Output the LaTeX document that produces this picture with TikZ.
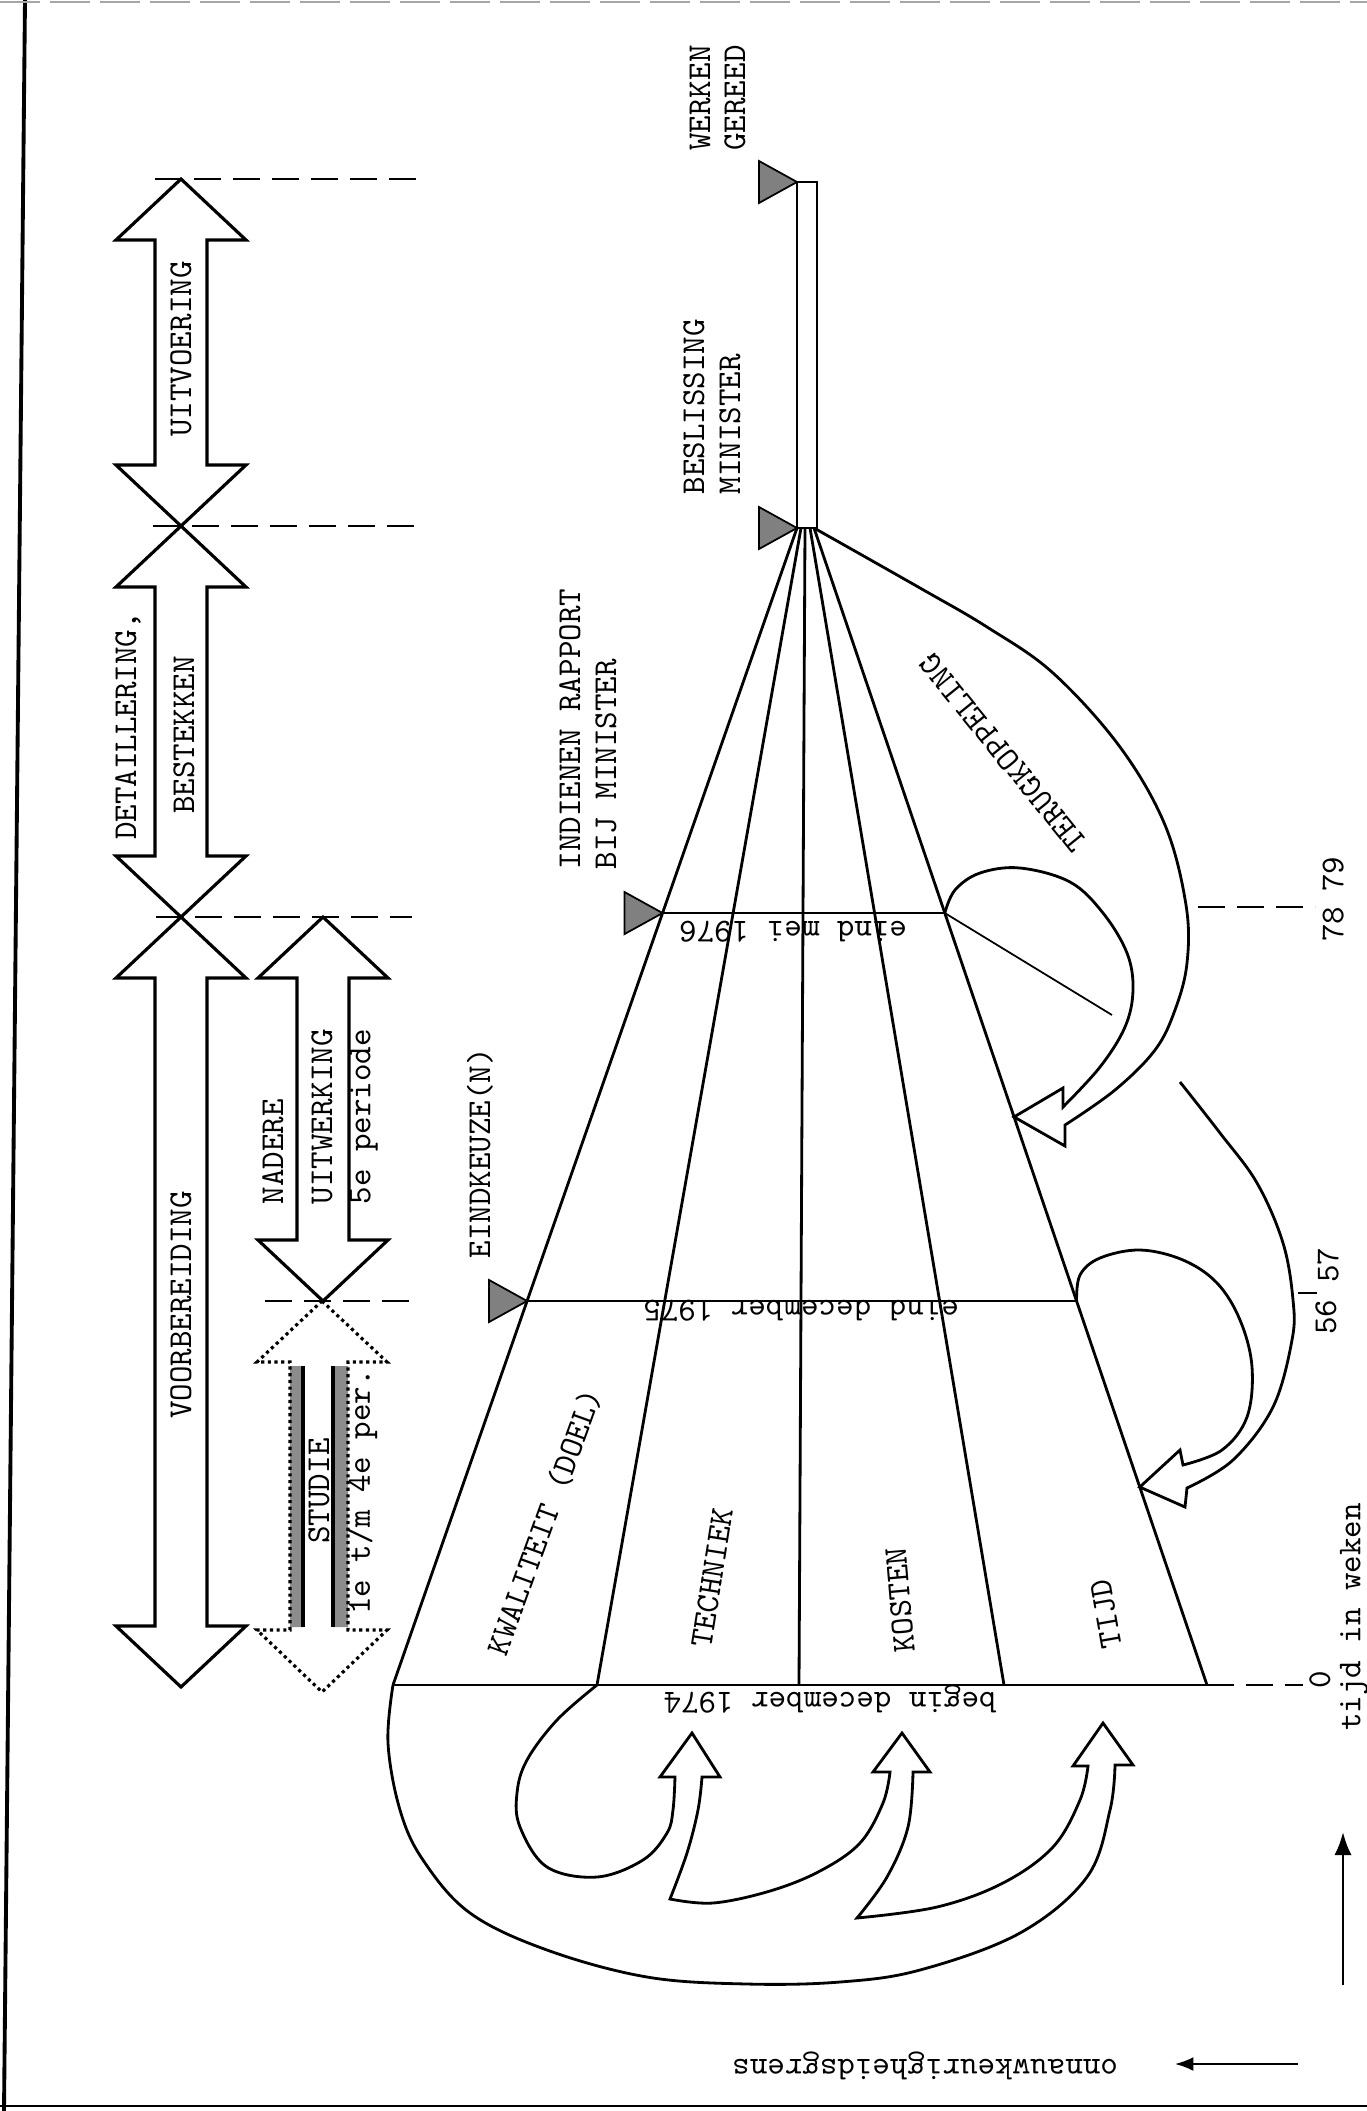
\documentclass[tikz,border=0pt]{standalone}
\usepackage{fontspec}
\usepackage{tikz}
\usetikzlibrary{arrows.meta,calc}

\begin{document}
\begin{tikzpicture}[x=0.1mm, y=-0.1mm, >=Latex,
  lbl/.style={font=\ttfamily\fontsize{9.5}{10}\selectfont, inner sep=0pt},
  blok/.style={draw, line width=0.9pt, line join=miter},
  spaak/.style={line width=0.8pt},
  dun/.style={line width=0.5pt},
  streep/.style={line width=0.6pt, dash pattern=on 2.7mm off 1.2mm},
  vlag/.style={draw, line width=0.5pt, fill=black!50},
  boog/.style={line width=0.8pt, line join=miter}]
  \useasboundingbox (0,0) rectangle (1367,2111);

  \draw[line width=1.1pt] (25,0) -- (4,2111);
  \draw[line width=0.8pt] (0,2106) -- (1367,2106);
  \draw[line width=0.3pt, black!35, dash pattern=on 4mm off 1mm] (0,2) -- (1367,2);

  \foreach \c/\t/\b in {181/179/526, 181/526/917, 181/917/1687, 323/917/1301}
    \draw[blok] (\c,\t) -- (\c+65,\t+61) -- (\c+26,\t+61) -- (\c+26,\b-61) -- (\c+65,\b-61) -- (\c,\b)
      -- (\c-65,\b-61) -- (\c-26,\b-61) -- (\c-26,\t+61) -- (\c-65,\t+61) -- cycle;
  \fill[black!45] (290,1366) rectangle (303,1627) (333,1366) rectangle (348,1627);
  \draw[blok, densely dotted] (322,1301) -- (387,1362) -- (348,1362) -- (348,1630) -- (387,1630) -- (322,1692)
    -- (257,1630) -- (290,1630) -- (290,1362) -- (257,1362) -- cycle;
  \draw[blok] (303,1366) -- (303,1627) (333,1366) -- (333,1627);

  \draw[streep] (155,179) -- (425,179);
  \draw[streep] (153,526) -- (420,526);
  \draw[streep] (156,917) -- (412,917);
  \draw[streep] (265,1301) -- (417,1301);

  \node[lbl, rotate=90] (uitv) at (181,349) {UITVOERING};
  \node[lbl, rotate=90] (detail) at (128,726) {DETAILLERING,};
  \node[lbl, rotate=90] (bestek) at (184,735) {BESTEKKEN};
  \node[lbl, rotate=90] (voorb) at (181,1305) {VOORBEREIDING};
  \node[lbl, rotate=90, anchor=west] (nadere) at (273,1205) {NADERE};
  \node[lbl, rotate=90, anchor=west] (uitw) at (322,1205) {UITWERKING};
  \node[lbl, rotate=90, anchor=west] (per5) at (364,1205) {5e periode};
  \node[lbl, rotate=90] (studie) at (319,1491) {STUDIE};
  \node[lbl, rotate=90] (per14) at (362,1492) {1e t/m 4e per.};

  \foreach \n/\xt/\xb in {0/797/393, 1/801/597, 2/805/799, 3/810/1004, 4/814/1207} {
    \coordinate (t\n) at (\xt,528);
    \coordinate (b\n) at (\xb,1685);
    \draw[spaak] (t\n) -- (b\n);
  }
  \coordinate (l75) at ($(t0)!0.6681!(b0)$);
  \coordinate (r75) at ($(t4)!0.6681!(b4)$);
  \coordinate (l76) at ($(t0)!0.3328!(b0)$);
  \coordinate (r76) at ($(t4)!0.3328!(b4)$);
  \draw[dun] (b0) -- (b4);
  \draw[dun] (l75) -- (r75);
  \draw[dun] (l76) -- (r76);
  \draw[streep] (b4) -- ++(96,0);
  \draw[streep] (1198,907) -- (1315,907);
  \draw[spaak] (797,182) rectangle (817,528);

  \foreach \p in {(797,182), (t0), (l76), (l75)}
    \draw[vlag] \p -- ++(-38,-21) -- ++(0,42) -- cycle;

  \node[lbl, rotate=90] (werken) at (700,98) {WERKEN};
  \node[lbl, rotate=90] (gereed) at (735,98) {GEREED};
  \node[lbl, rotate=90, anchor=west] (besl) at (694,495) {BESLISSING};
  \node[lbl, rotate=90, anchor=west] (minA) at (730,495) {MINISTER};
  \node[lbl, rotate=90, anchor=west] (indien) at (570,870) {INDIENEN RAPPORT};
  \node[lbl, rotate=90, anchor=west] (minB) at (606,870) {BIJ MINISTER};
  \node[lbl, rotate=90, anchor=west] (eindk) at (480,1259) {EINDKEUZE(N)};

  \node[lbl, rotate=70] (kwal) at (545,1522) {KWALITEIT (DOEL)};
  \node[lbl, rotate=81] (tech) at (712,1578) {TECHNIEK};
  \node[lbl, rotate=95] (kost) at (900,1600) {KOSTEN};
  \node[lbl, rotate=100] (tijd) at (1106,1614) {TIJD};
  \node[lbl, rotate=129] (terug) at (1003,753) {TERUGKOPPELING};

  \node[lbl, rotate=180] (d74) at (830,1699) {begin december 1974};
  \node[lbl, rotate=180] (d75) at (801,1311) {eind december 1975};
  \node[lbl, rotate=180] (d76) at (793,932) {eind mei 1976};

  \draw[boog] plot[smooth, tension=0.6] coordinates {(b0) (388,1743) (400,1810) (423,1860) (470,1913) (547,1950)
      (647,1977) (747,1984) (840,1982) (920,1970) (1020,1933) (1087,1877) (1110,1810) (1115,1765)}
    -- (1133,1765) -- (1103,1723) -- (1073,1766)
    -- plot[smooth, tension=0.6] coordinates {(1088,1766) (1080,1800) (1053,1847) (1003,1883) (937,1907) (857,1918)}
    -- plot[smooth, tension=0.6] coordinates {(857,1918) (887,1877) (908,1827) (913,1772)}
    -- (930,1772) -- (902,1733) -- (873,1772)
    -- plot[smooth, tension=0.6] coordinates {(890,1772) (883,1803) (860,1843) (820,1871) (770,1891) (713,1903) (670,1899)}
    -- plot[smooth, tension=0.6] coordinates {(670,1899) (687,1853) (698,1810) (702,1777)}
    -- (720,1777) -- (692,1733) -- (660,1777)
    -- plot[smooth, tension=0.6] coordinates {(675,1777) (673,1810) (667,1833) (643,1860) (597,1877) (547,1867)
      (520,1827) (517,1793) (527,1760) (557,1720) (b1)};

  \draw[boog] plot[smooth, tension=0.6] coordinates {(t4) (920,588) (987,627) (1053,673) (1120,747) (1165,825)
      (1186,905) (1187,963) (1175,1010) (1155,1050) (1115,1090) (1065,1125)}
    -- (1065,1146) -- ($(t4)!0.509!(b4)$) -- (1063,1088)
    -- plot[smooth, tension=0.6] coordinates {(1063,1107) (1100,1067) (1125,1027) (1133,990) (1127,953) (1103,913)
      (1070,882) (1020,868) (980,873) (955,890) (r76)};
  \draw[dun] (r76) -- (1112,1015);

  \draw[boog] plot[smooth, tension=0.6] coordinates {(r75) (1080,1275) (1100,1258) (1140,1250) (1183,1260) (1217,1283)
      (1240,1320) (1252,1367) (1247,1417) (1222,1450) (1183,1465)}
    -- (1180,1450) -- ($(t4)!0.8289!(b4)$) -- (1185,1507)
    -- plot[smooth, tension=0.6] coordinates {(1187,1488) (1233,1460) (1273,1407) (1292,1340) (1293,1300)
      (1283,1243) (1257,1183) (1220,1133) (1180,1082)};

  \node[lbl, rotate=90] (nul) at (1320,1680) {0};
  \node[lbl, rotate=90] (w56) at (1326,1317) {56};
  \node[lbl, rotate=90] (w57) at (1328,1265) {57};
  \draw[dun] (1298,1293) -- (1317,1293);
  \node[lbl, rotate=90] (w78) at (1333,924) {78};
  \node[lbl, rotate=90] (w79) at (1333,874) {79};
  \node[lbl, rotate=90] (weken) at (1354,1617) {tijd in weken};
  \coordinate (tstart) at (1343,1985);
  \coordinate (tend) at (1343,1832);
  \draw[->, line width=0.8pt] (tstart) -- (tend);

  \node[lbl, rotate=180] (grens) at (925,2066) {onnauwkeurigheidsgrens};
  \coordinate (gstart) at (1298,2064);
  \coordinate (gend) at (1175,2064);
  \draw[->, dun] (gstart) -- (gend);
\end{tikzpicture}
\end{document}
